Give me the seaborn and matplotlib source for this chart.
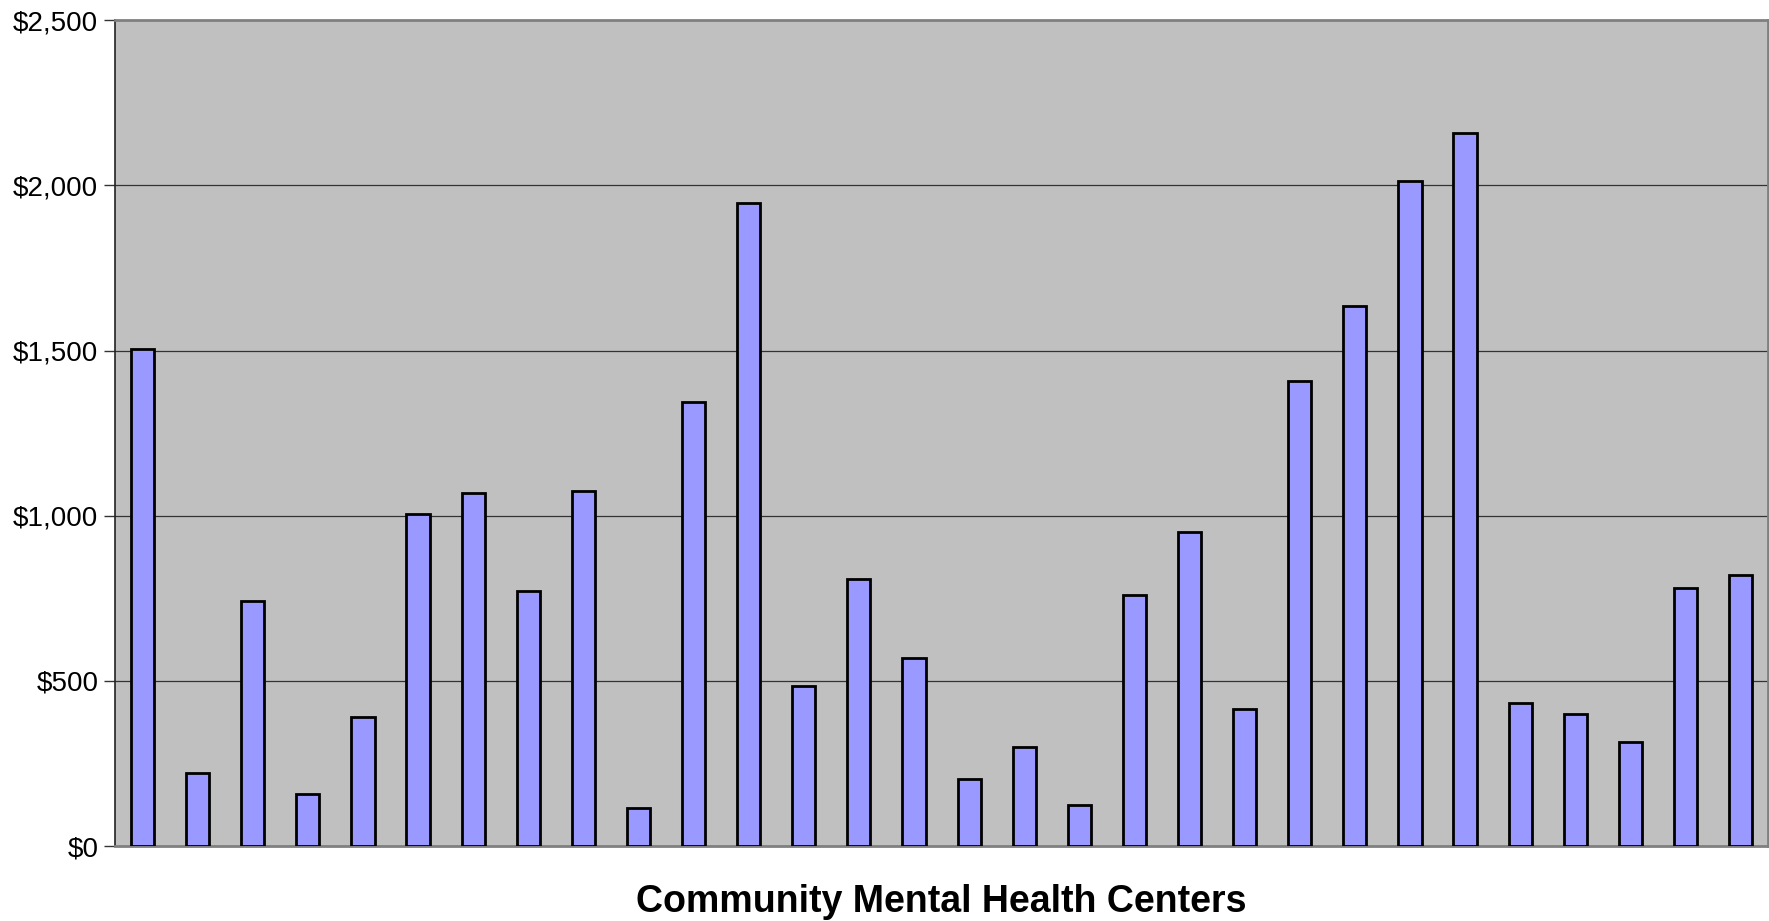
import matplotlib
matplotlib.use('Agg')

import pandas as pd
import matplotlib.pyplot as plt
import seaborn as sns
from matplotlib.ticker import FuncFormatter

# Values per center
centers = [f'C{i}' for i in range(1, 31)]
values = [1505, 222, 742, 157, 390, 1005, 1070, 773, 1074, 116,
          1344, 1946, 486, 807, 568, 202, 301, 123, 759, 951,
          414, 1409, 1635, 2014, 2158, 434, 400, 315, 780, 821]
y_ticks = [0, 500, 1000, 1500, 2000, 2500]

df = pd.DataFrame({'center': centers, 'value': values})

sns.set_style('white')
plt.rcParams['font.family'] = ['Liberation Sans', 'DejaVu Sans']

fig = plt.figure(figsize=(17.69, 9.21), dpi=100)
ax = fig.add_axes([0.065, 0.0814, 0.9345, 0.8966])
ax.set_facecolor('#C0C0C0')

sns.barplot(data=df, x='center', y='value', color='#9999FF', saturation=1,
            width=0.42, edgecolor='black', linewidth=2, ax=ax, zorder=3)

ax.set_xlim(-0.5, len(centers) - 0.5)
ax.set_ylim(0, 2500)
ax.set_yticks(y_ticks)
ax.yaxis.set_major_formatter(FuncFormatter(lambda v, p: f'${v:,.0f}'))
ax.grid(axis='y', color='#333333', linewidth=0.9, zorder=0)
ax.set_axisbelow(True)

ax.set_xticks([])
ax.set_xlabel('Community Mental Health Centers', fontsize=27, fontweight='bold',
              labelpad=27, color='black')
ax.set_ylabel('')
ax.tick_params(axis='y', which='both', left=True, length=8, width=1, labelsize=20,
               color='#333333', labelcolor='black', pad=4)

for side in ['top', 'right', 'bottom']:
    ax.spines[side].set_color('#808080')
    ax.spines[side].set_linewidth(2)
ax.spines['left'].set_color('#222222')
ax.spines['left'].set_linewidth(1.2)

plt.savefig('out.png', dpi=100)
